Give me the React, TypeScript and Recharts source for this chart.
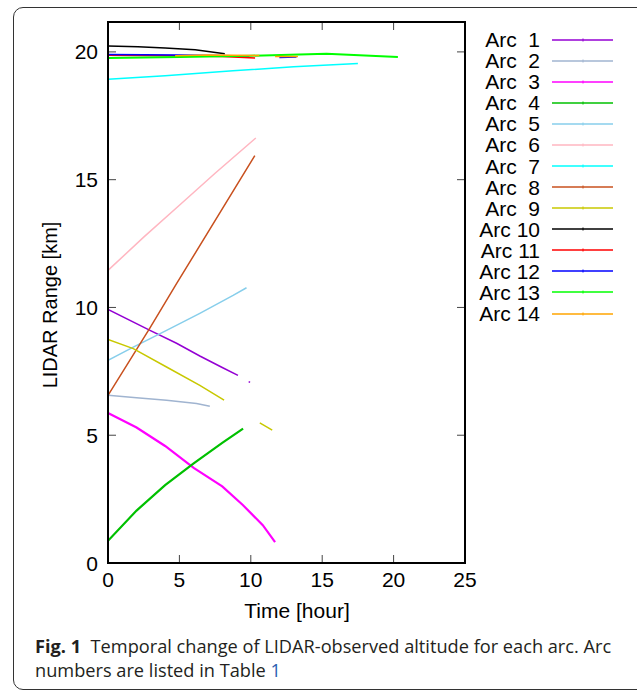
import React from "react";
import { LineChart, Line, XAxis, YAxis } from "recharts";

// [time (hour), range (km)] pairs, null range = gap in the track
const arc1 = [[0, 9.92], [2.94, 9.1], [4.8, 8.6], [6.43, 8.1], [8, 7.65], [9.1, 7.34], [9.5, null], [9.85, 7.1], [9.95, 7.07]];
const arc2 = [[0, 6.56], [2, 6.47], [4.1, 6.37], [6.2, 6.24], [7.13, 6.13]];
const arc3 = [[0, 5.87], [2, 5.3], [4, 4.58], [6, 3.72], [8, 3.0], [9.44, 2.27], [10.84, 1.48], [11.7, 0.82]];
const arc4 = [[0, 0.87], [2, 2.05], [4, 3.05], [6, 3.9], [8, 4.7], [9.46, 5.26]];
const arc5 = [[0, 7.93], [1.77, 8.45], [4.1, 9.1], [6.43, 9.77], [8.76, 10.47], [9.7, 10.77]];
const arc6 = [[0, 11.45], [2.5, 12.75], [5, 14.0], [7.5, 15.25], [10.35, 16.63]];
const arc7 = [[0, 18.93], [4, 19.07], [8.75, 19.26], [13, 19.42], [17.5, 19.55]];
const arc8 = [[0, 6.56], [2.94, 9.2], [4.8, 10.93], [10.28, 15.94]];
const arc9 = [[0, 8.75], [1.77, 8.39], [4.1, 7.67], [6.43, 6.95], [8.13, 6.37], [9.5, null], [10.63, 5.48], [11.5, 5.2]];
const arc10 = [[0, 20.23], [2.1, 20.2], [4, 20.15], [6.1, 20.08], [8.18, 19.93]];
const arc11 = [[0, 19.87], [5, 19.85], [8, 19.82], [10.3, 19.76]];
const arc12 = [[0, 19.9], [5, 19.88], [9.9, 19.84], [11, null], [12.0, 19.78], [13.2, 19.8]];
const arc13 = [[0, 19.76], [5, 19.8], [10, 19.85], [15.3, 19.93], [20.3, 19.8]];
const arc14 = [[4.7, 19.85], [7, 19.88], [10.6, 19.86], [11.2, null], [11.7, 19.82], [13.3, 19.82]];

const arcs = [arc1, arc2, arc3, arc4, arc5, arc6, arc7, arc8, arc9, arc10, arc11, arc12, arc13, arc14];
const arcNames = ["Arc  1", "Arc  2", "Arc  3", "Arc  4", "Arc  5", "Arc  6", "Arc  7", "Arc  8", "Arc  9", "Arc 10", "Arc 11", "Arc 12", "Arc 13", "Arc 14"];
const arcColors = ["#9400d3", "#a0b4d0", "#ff00ff", "#00c000", "#87ceeb", "#ffb6c1", "#00ffff", "#c8501e", "#c8c800", "#000000", "#ff0000", "#0000ff", "#00ff00", "#ffa500"];
const arcWidths = [1.5, 1.5, 2.2, 2.2, 1.5, 1.5, 1.5, 1.5, 1.5, 1.5, 1.5, 1.5, 2, 1.5];

const xTicks = [0, 5, 10, 15, 20, 25];
const yTicks = [0, 5, 10, 15, 20];

const FONT = "'Liberation Sans', Arial, sans-serif";
// plot box in page pixels (margins below produce it)
const PLOT = { left: 108, right: 465, top: 22, bottom: 563 };
const TICK = 8;

// gnuplot style: labels outside, tick marks pointing in, mirrored on the opposite side
function XTick(props: any) {
    const { x, payload } = props;
    return (
        <g>
            <line x1={x} x2={x} y1={PLOT.bottom} y2={PLOT.bottom - TICK} stroke="#444" />
            <line x1={x} x2={x} y1={PLOT.top} y2={PLOT.top + TICK} stroke="#444" />
            <text x={x} y={PLOT.bottom + 24} textAnchor="middle" fontSize={21} fontFamily={FONT} fill="#000">
                {payload.value}
            </text>
        </g>
    );
}

function YTick(props: any) {
    const { y, payload } = props;
    return (
        <g>
            <line x1={PLOT.left} x2={PLOT.left + TICK} y1={y} y2={y} stroke="#444" />
            <line x1={PLOT.right} x2={PLOT.right - TICK} y1={y} y2={y} stroke="#444" />
            <text x={PLOT.left - 10} y={y + 7.5} textAnchor="end" fontSize={21} fontFamily={FONT} fill="#000">
                {payload.value}
            </text>
        </g>
    );
}

function ArcLegend() {
    return (
        <div style={{ position: "absolute", left: 460, top: 29, fontFamily: FONT, fontSize: 21, color: "#000" }}>
            {arcNames.map((name, i) => (
                <div key={name} style={{ display: "flex", alignItems: "center", height: 21.08 }}>
                    <span style={{ width: 80, textAlign: "right", whiteSpace: "pre", lineHeight: "21px" }}>{name}</span>
                    <svg width={62} height={10} style={{ marginLeft: 12 }}>
                        <line x1={0} y1={5} x2={61} y2={5} stroke={arcColors[i]} strokeWidth={1.6} />
                        <line x1={31} y1={3.5} x2={31} y2={6.5} stroke={arcColors[i]} strokeWidth={1} />
                    </svg>
                </div>
            ))}
        </div>
    );
}

export default function App() {
    return (
        <div style={{ position: "absolute", left: 0, top: 0, width: 637, height: 692, background: "#fff", overflow: "hidden" }}>
            {/* rounded figure frame */}
            <div
                style={{
                    position: "absolute",
                    left: 13,
                    top: 7,
                    width: 660,
                    height: 683,
                    boxSizing: "border-box",
                    border: "1.2px solid #333",
                    borderRadius: 10,
                }}
            />

            <div style={{ position: "absolute", left: 0, top: 0 }}>
                <LineChart width={637} height={600} margin={{ top: 22, right: 172, bottom: 0, left: 48 }}>
                    <XAxis
                        dataKey="t"
                        type="number"
                        domain={[0, 25]}
                        ticks={xTicks}
                        allowDataOverflow
                        height={37}
                        tickLine={false}
                        tick={<XTick />}
                        axisLine={{ stroke: "#000", strokeWidth: 2 }}
                    />
                    <YAxis
                        dataKey="r"
                        type="number"
                        domain={[0, 21.17]}
                        ticks={yTicks}
                        allowDataOverflow
                        width={60}
                        tickLine={false}
                        tick={<YTick />}
                        axisLine={{ stroke: "#000", strokeWidth: 2 }}
                    />
                    {arcs.map((arc, i) => (
                        <Line
                            key={arcNames[i]}
                            name={arcNames[i]}
                            data={arc.map(([t, r]) => ({ t, r }))}
                            dataKey="r"
                            type="linear"
                            stroke={arcColors[i]}
                            strokeWidth={arcWidths[i]}
                            dot={false}
                            activeDot={false}
                            isAnimationActive={false}
                        />
                    ))}
                </LineChart>
            </div>

            {/* plot border (top and right sides) */}
            <div
                style={{
                    position: "absolute",
                    left: PLOT.left - 1,
                    top: PLOT.top - 1,
                    width: PLOT.right - PLOT.left + 2,
                    height: PLOT.bottom - PLOT.top + 2,
                    boxSizing: "border-box",
                    border: "2px solid #000",
                    pointerEvents: "none",
                }}
            />

            <ArcLegend />

            {/* axis titles */}
            <div
                style={{
                    position: "absolute",
                    left: 50,
                    top: 305,
                    transform: "translate(-50%, -50%) rotate(-90deg)",
                    whiteSpace: "nowrap",
                    fontFamily: FONT,
                    fontSize: 20,
                    color: "#000",
                }}
            >
                LIDAR Range [km]
            </div>
            <div
                style={{
                    position: "absolute",
                    left: 297,
                    top: 611,
                    transform: "translate(-50%, -50%)",
                    whiteSpace: "nowrap",
                    fontFamily: FONT,
                    fontSize: 21,
                    color: "#000",
                }}
            >
                Time [hour]
            </div>

            {/* caption */}
            <div
                style={{
                    position: "absolute",
                    left: 35,
                    top: 634,
                    whiteSpace: "nowrap",
                    fontFamily: "'Open Sans', Lato, sans-serif",
                    fontSize: 18.2,
                    lineHeight: "24px",
                    color: "#231f20",
                }}
            >
                <b>Fig. 1</b>&nbsp; Temporal change of LIDAR-observed altitude for each arc. Arc
                <br />
                numbers are listed in Table <span style={{ color: "#2a5db0" }}>1</span>
            </div>
        </div>
    );
}
